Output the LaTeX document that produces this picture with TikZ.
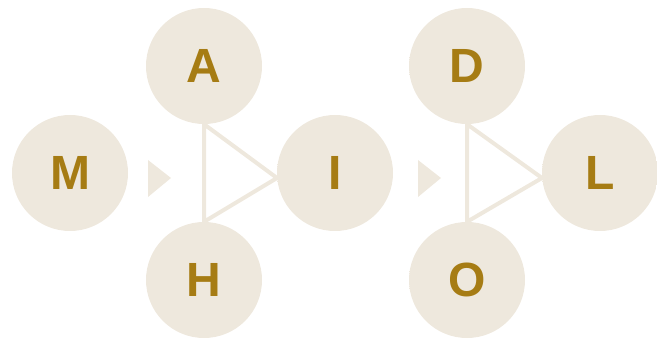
\documentclass[tikz,border=0pt]{standalone}
\usepackage{fontspec}
\setmainfont{Liberation Sans}
\usetikzlibrary{backgrounds}
\definecolor{base}{HTML}{EEE8DD}
\definecolor{rim}{HTML}{FAF8F4}
\definecolor{ink}{HTML}{A67C14}
\pgfdeclareradialshading{rimshade}{\pgfpoint{-6bp}{6bp}}{color(0bp)=(base); color(40bp)=(base); color(50bp)=(rim); color(60bp)=(rim)}
\begin{document}
\begin{tikzpicture}[x=1pt,y=1pt,
  ball/.style={circle, minimum size=116pt, inner sep=0pt, shading=rimshade,
    text=ink, font=\fontsize{48}{48}\selectfont\bfseries},
  link/.style={draw=base, line width=4pt, line join=miter},
  pointer/.style={fill=base, draw=none}]
\useasboundingbox (0,0) rectangle (657,338);
\node[ball] (M) at (70,165) {M};
\node[ball] (A) at (204,272) {A};
\node[ball] (H) at (204,58) {H};
\node[ball] (I) at (335,165) {I};
\node[ball] (D) at (467,272) {D};
\node[ball] (O) at (467,58) {O};
\node[ball] (L) at (600,165) {L};
\coordinate (p1) at (277,160);
\coordinate (p2) at (542,160);
\begin{scope}[on background layer]
\draw[link] (A.south) -- (H.north) -- (p1) -- cycle;
\draw[link] (D.south) -- (O.north) -- (p2) -- cycle;
\end{scope}
\coordinate (t1) at (148,178);
\coordinate (t2) at (148,141);
\coordinate (t3) at (171,160);
\coordinate (u1) at (418,178);
\coordinate (u2) at (418,141);
\coordinate (u3) at (441,160);
\fill[pointer] (t1) -- (t2) -- (t3) -- cycle;
\fill[pointer] (u1) -- (u2) -- (u3) -- cycle;
\end{tikzpicture}
\end{document}
